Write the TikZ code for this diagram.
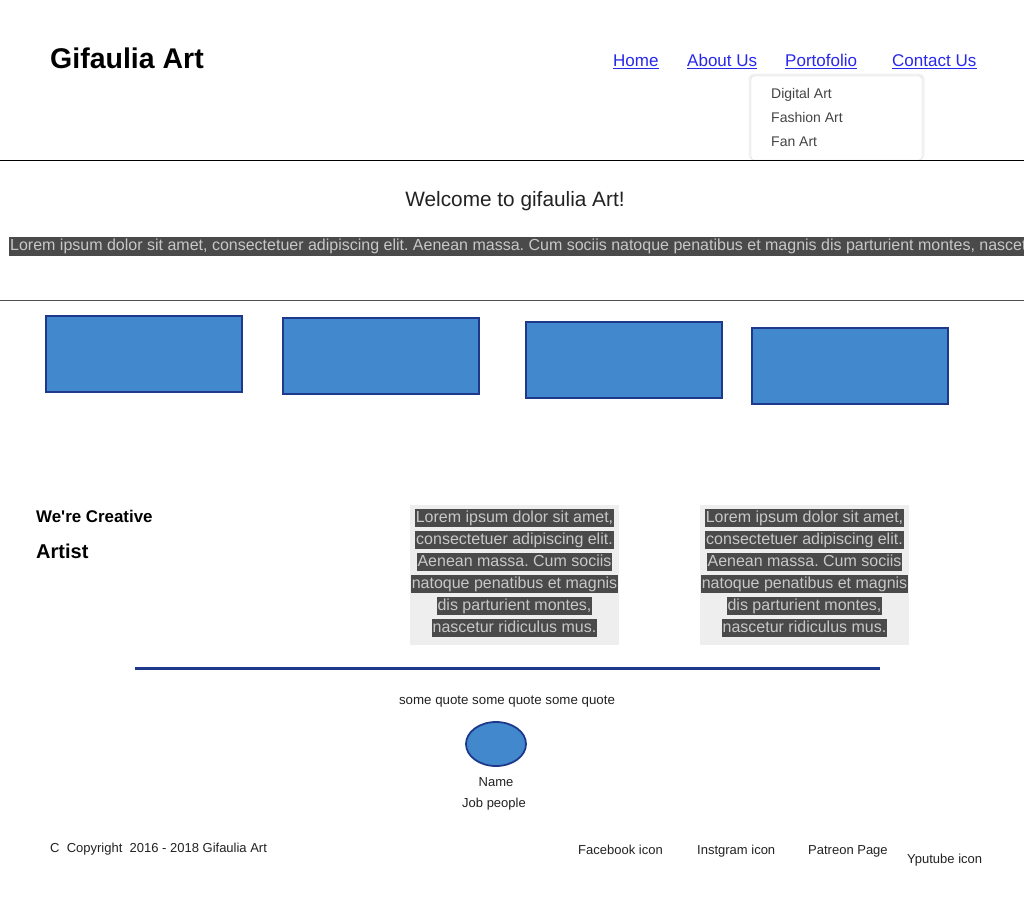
\documentclass[tikz,border=0pt]{standalone}
\usepackage{fontspec}
\setmainfont{Liberation Sans}[Ligatures=TeXOff]
\usepackage{tikz}
\usetikzlibrary{positioning,shapes.geometric}
\frenchspacing

\definecolor{linkblue}{RGB}{40,40,235}
\definecolor{menutext}{RGB}{68,68,68}
\definecolor{bodytext}{RGB}{34,34,34}
\definecolor{cardblue}{RGB}{66,136,204}
\definecolor{cardline}{RGB}{30,57,140}
\definecolor{hldark}{RGB}{74,74,74}
\definecolor{hltext}{RGB}{200,200,200}
\definecolor{blockbg}{RGB}{238,238,238}
\definecolor{rulegray}{RGB}{80,80,80}

\begin{document}
\begin{tikzpicture}[x=1pt, y=-1pt,
  link/.style={font=\fontsize{17}{20}\selectfont, text=linkblue, inner sep=0, anchor=base west},
  menuitem/.style={font=\fontsize{14}{16}\selectfont, text=menutext, inner sep=0, anchor=base west},
  card/.style={draw=cardline, fill=cardblue, line width=2.2, minimum width=196, minimum height=76, anchor=north west, inner sep=0},
  hl/.style={fill=hldark, text=hltext, font=\fontsize{16}{19}\selectfont, inner sep=0, inner xsep=1, text height=12.5, text depth=3.8, inner ysep=1},
  small/.style={font=\fontsize{13}{15}\selectfont, text=bodytext, inner sep=0, anchor=base west}]
\useasboundingbox (0,0) rectangle (1024,900);
\fill[white] (0,0) rectangle (1024,900);

% header
\node[font=\fontsize{28.5}{32}\selectfont\bfseries, inner sep=0, anchor=base west] (title) at (50,68.5) {Gifaulia Art};
\foreach \name/\txt/\x in {home/Home/613, about/About Us/687, port/Portofolio/785, contact/Contact Us/892}{
  \node[link] (\name) at (\x,66.5) {\txt};
  \draw[linkblue, line width=1] ([yshift=-2.2pt]\name.base west) -- ([yshift=-2.2pt]\name.base east);
}

% dropdown under Portofolio
\fill[black!5, rounded corners=5] (748.5,73.5) rectangle (924.5,160);
\filldraw[fill=white, draw=black!15, rounded corners=3] (751,76) rectangle (922,160);
\node[menuitem] (digital) at (771,98) {Digital Art};
\node[menuitem] (fashion) at (771,122) {Fashion Art};
\node[menuitem] (fan) at (771,146) {Fan Art};

\draw[black, line width=1] (0,160.5) -- (1024,160.5);

% welcome band
\node[font=\fontsize{20.8}{24}\selectfont, text=bodytext, inner sep=0, anchor=base] (welcome) at (515,206) {Welcome to gifaulia Art!};
\begin{scope}
\clip (0,0) rectangle (1024,900);
\node[hl, anchor=west] (band) at (9,246.5) {Lorem ipsum dolor sit amet, consectetuer adipiscing elit. Aenean massa. Cum sociis natoque penatibus et magnis dis parturient montes, nascetur ridiculus mus.};
\end{scope}
\draw[rulegray, line width=1.2] (0,300.5) -- (1024,300.5);

% cards
\foreach \i/\x/\y in {1/45/315, 2/282/317, 3/525/321, 4/751/327}
  \node[card] (card\i) at (\x,\y) {};

% about
\node[font=\fontsize{16.9}{20}\selectfont\bfseries, inner sep=0, anchor=base west] (creative) at (36,522) {We're Creative};
\node[font=\fontsize{20}{24}\selectfont\bfseries, inner sep=0, anchor=base west] (artist) at (36,558) {Artist};

\foreach \b/\cx in {a/514.5, b/804.5}{
  \fill[blockbg] (\cx-104.5,505) rectangle (\cx+104.5,645);
  \foreach \ln [count=\k] in {{Lorem ipsum dolor sit amet,}, {consectetuer adipiscing elit.}, {Aenean massa. Cum sociis}, {natoque penatibus et magnis}, {dis parturient montes,}, {nascetur ridiculus mus.}}
    \node[hl] (\b-\k) at (\cx,496+22*\k) {\ln};
}

\draw[cardline, line width=2.2] (135,668.5) -- (880,668.5);

% testimonial
\node[font=\fontsize{13.3}{16}\selectfont, text=bodytext, inner sep=0, anchor=base] (quote) at (507,704) {some quote some quote some quote};
\node[ellipse, draw=cardline, fill=cardblue, line width=1.8, minimum width=60, minimum height=44, inner sep=0] (avatar) at (496,744) {};
\node[small, anchor=base] (name) at (496,786.5) {Name};
\node[small, anchor=base] (job) at (494,807.5) {Job people};

% footer
\node[small] (copy) at (50,852.5) {C\ \ Copyright\ \ 2016 - 2018 Gifaulia Art};
\node[small] (fb) at (578,854.5) {Facebook icon};
\node[small] (ig) at (697,854.5) {Instgram icon};
\node[small] (pat) at (808,854.5) {Patreon Page};
\node[small] (yt) at (907,863.5) {Yputube icon};
\end{tikzpicture}
\end{document}
